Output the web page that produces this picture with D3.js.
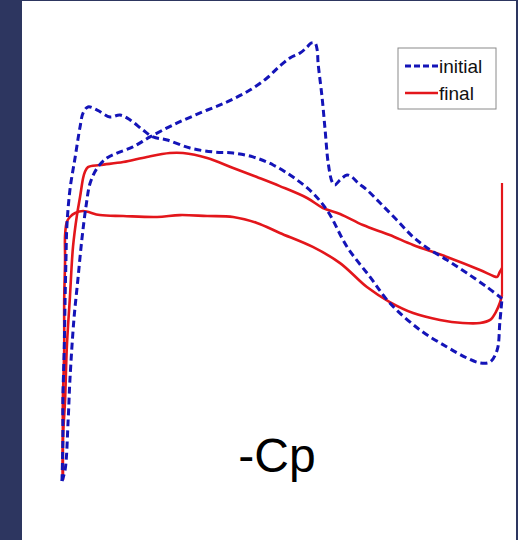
<!DOCTYPE html>
<html>
<head>
<meta charset="utf-8">
<script src="https://cdn.jsdelivr.net/npm/d3@7"></script>
<style>
  html, body { margin: 0; padding: 0; background: #2d3660; }
  svg { display: block; }
</style>
</head>
<body>
<script>
// Pressure distributions (x/c, -Cp) on the two surfaces, before and after optimisation.
const initialUpper = [
  [0.000,-1.000],[0.007,-0.943],[0.014,-0.682],[0.018,-0.474],[0.027,-0.161],[0.036,0.047],
  [0.045,0.255],[0.055,0.438],[0.064,0.552],[0.080,0.630],[0.102,0.682],[0.125,0.708],
  [0.161,0.740],[0.200,0.792],[0.252,0.854],[0.314,0.917],[0.375,0.974],[0.427,1.036],
  [0.466,1.099],[0.495,1.161],[0.518,1.203],[0.541,1.229],[0.557,1.260],[0.566,1.281],
  [0.575,1.281],[0.580,1.245],[0.582,1.177],[0.591,1.000],[0.598,0.828],[0.605,0.656],
  [0.614,0.557],[0.620,0.542],[0.632,0.568],[0.648,0.594],[0.659,0.583],[0.673,0.552],
  [0.693,0.516],[0.723,0.448],[0.761,0.359],[0.798,0.271],[0.830,0.214],[0.875,0.151],
  [0.920,0.083],[0.966,0.010],[1.000,-0.050]
];
const initialLower = [
  [0.000,-1.000],[0.002,-0.786],[0.002,-0.578],[0.005,-0.318],[0.007,-0.057],[0.009,0.151],
  [0.011,0.323],[0.018,0.516],[0.030,0.688],[0.041,0.844],[0.048,0.917],[0.059,0.948],
  [0.080,0.932],[0.109,0.896],[0.132,0.906],[0.155,0.880],[0.184,0.828],[0.207,0.792],
  [0.239,0.776],[0.291,0.734],[0.343,0.714],[0.389,0.708],[0.434,0.688],[0.480,0.646],
  [0.525,0.583],[0.570,0.500],[0.605,0.401],[0.648,0.219],[0.700,0.063],[0.745,-0.073],
  [0.814,-0.214],[0.875,-0.302],[0.920,-0.359],[0.950,-0.385],[0.973,-0.380],[0.989,-0.318],
  [0.995,-0.177],[1.000,-0.050]
];
const finalUpper = [
  [0.002,-0.995],[0.002,-0.786],[0.007,-0.578],[0.011,-0.302],[0.018,-0.042],[0.025,0.219],
  [0.034,0.385],[0.041,0.479],[0.048,0.578],[0.052,0.609],[0.059,0.635],[0.086,0.646],
  [0.139,0.661],[0.193,0.688],[0.245,0.708],[0.275,0.708],[0.330,0.682],[0.389,0.630],
  [0.443,0.583],[0.495,0.536],[0.557,0.474],[0.593,0.422],[0.632,0.391],[0.684,0.333],
  [0.745,0.281],[0.798,0.229],[0.875,0.167],[0.950,0.099],[0.980,0.068],[0.989,0.063],
  [0.995,0.089],[1.000,0.109]
];
const finalLower = [
  [0.002,-0.995],[0.002,-0.786],[0.002,-0.578],[0.005,-0.318],[0.005,-0.057],[0.007,0.151],
  [0.007,0.281],[0.011,0.349],[0.018,0.375],[0.030,0.396],[0.048,0.406],[0.086,0.385],
  [0.139,0.380],[0.216,0.375],[0.268,0.385],[0.330,0.380],[0.389,0.375],[0.443,0.344],
  [0.495,0.292],[0.570,0.219],[0.632,0.135],[0.693,0.010],[0.745,-0.068],[0.798,-0.125],
  [0.859,-0.161],[0.911,-0.177],[0.950,-0.177],[0.973,-0.161],[0.986,-0.120],[0.995,-0.073],
  [1.000,-0.031]
];
// trailing-edge jump of the final distribution
const finalTrailingEdge = [[1.000,-0.031],[1.000,0.552]];

const seriesNames = ["initial", "final"];
const seriesColors = ["#1414b8", "#e3161b"];
const axisLabel = "-Cp";

const W = 518, H = 540;
const svg = d3.select("body").append("svg").attr("width", W).attr("height", H);

// white slide panel on the navy background
svg.append("rect").attr("x", 22).attr("y", 1).attr("width", 494).attr("height", H - 1).attr("fill", "#ffffff");

const x = d3.scaleLinear().domain([0, 1]).range([62, 502]);
const y = d3.scaleLinear().domain([-1, 1.25]).range([481, 49]);

const line = d3.line()
  .x(d => x(d[0]))
  .y(d => y(d[1]))
  .curve(d3.curveCatmullRom.alpha(0.5));
const straight = d3.line().x(d => x(d[0])).y(d => y(d[1]));

const g = svg.append("g");

// final: solid red
[finalUpper, finalLower].forEach(s => {
  g.append("path").attr("d", line(s))
    .attr("fill", "none").attr("stroke", seriesColors[1])
    .attr("stroke-width", 2.6).attr("stroke-linejoin", "round");
});
g.append("path").attr("d", straight(finalTrailingEdge))
  .attr("fill", "none").attr("stroke", seriesColors[1]).attr("stroke-width", 2.2);

// initial: dashed blue
[initialUpper, initialLower].forEach(s => {
  g.append("path").attr("d", line(s))
    .attr("fill", "none").attr("stroke", seriesColors[0])
    .attr("stroke-width", 3).attr("stroke-dasharray", "7,4");
});

// legend
const lg = svg.append("g").attr("transform", "translate(398,48)");
lg.append("rect").attr("width", 98).attr("height", 61)
  .attr("fill", "#ffffff").attr("stroke", "#8a8a8a").attr("stroke-width", 1);
seriesNames.forEach((name, i) => {
  const yy = 18 + i * 27;
  lg.append("line").attr("x1", 7).attr("x2", 40).attr("y1", yy).attr("y2", yy)
    .attr("stroke", seriesColors[i]).attr("stroke-width", i === 0 ? 3 : 2.6)
    .attr("stroke-dasharray", i === 0 ? "6,3" : null);
  lg.append("text").attr("x", 41).attr("y", yy + 7)
    .attr("font-family", "Liberation Sans, Arial, sans-serif").attr("font-size", 19)
    .attr("fill", "#111").text(name);
});

// axis caption
svg.append("text").attr("x", 277).attr("y", 472).attr("text-anchor", "middle")
  .attr("font-family", "Liberation Sans, Arial, sans-serif").attr("font-size", 48)
  .attr("fill", "#000").text(axisLabel);
</script>
</body>
</html>
